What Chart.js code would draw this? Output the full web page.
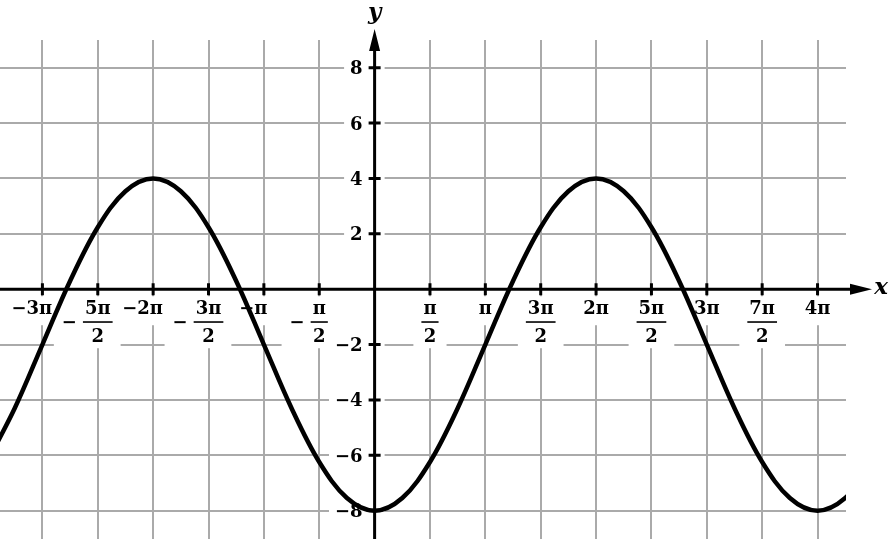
<!DOCTYPE html>
<html>
<head>
<meta charset="utf-8">
<script src="https://cdn.jsdelivr.net/npm/chart.js@4/dist/chart.umd.min.js"></script>
<style>
  html, body { margin: 0; padding: 0; background: #fff; overflow: hidden; }
  #Grafica { display: block; }
</style>
</head>
<body>
<canvas id="Grafica" width="891" height="539"></canvas>
<script>
// x values in units of pi, y values
const xPi = [-3.5,-3.25,-3,-2.75,-2.5,-2.25,-2,-1.75,-1.5,-1.25,-1,-0.75,-0.5,-0.25,
             0,0.25,0.5,0.75,1,1.25,1.5,1.75,2,2.25,2.5,2.75,3,3.25,3.5,3.75,4,4.25,4.5];
const yVals = [-6.24,-4.30,-2,0.30,2.24,3.54,4,3.54,2.24,0.30,-2,-4.30,-6.24,-7.54,
               -8,-7.54,-6.24,-4.30,-2,0.30,2.24,3.54,4,3.54,2.24,0.30,-2,-4.30,-6.24,-7.54,-8,-7.54,-6.24];

const xTickVals = [-3,-2.5,-2,-1.5,-1,-0.5,0.5,1,1.5,2,2.5,3,3.5,4];
const xTickLabels = ['−3π','−5π/2','−2π','−3π/2','−π','−π/2','π/2','π','3π/2','2π','5π/2','3π','7π/2','4π'];
const yTickVals = [-8,-6,-4,-2,2,4,6,8];
const yTickLabels = ['−8','−6','−4','−2','2','4','6','8'];
const gridX = [-3,-2.5,-2,-1.5,-1,-0.5,0,0.5,1,1.5,2,2.5,3,3.5,4];
const gridY = [-8,-6,-4,-2,0,2,4,6,8];

const labelFont = 'bold 18px "DejaVu Serif"';
const titleFont = 'italic bold 23px "DejaVu Serif"';

function drawXLabel(ctx, px, y0, label){
    let neg = label.startsWith('−');
    let body = neg ? label.slice(1) : label;
    ctx.font = labelFont;
    if (body.includes('/')){
        let [num, den] = body.split('/');
        let w = Math.max(ctx.measureText(num).width, ctx.measureText(den).width) + 4;
        let mw = neg ? ctx.measureText('−').width + 6 : 0;
        let left = px - w/2 - mw, right = px + w/2;
        ctx.fillStyle = '#fff';
        ctx.fillRect(left - 8, y0 + 7, right - left + 16, 52);
        ctx.fillStyle = '#000';
        ctx.textAlign = 'center';
        ctx.textBaseline = 'alphabetic';
        ctx.fillText(num, px, y0 + 25);
        ctx.fillText(den, px, y0 + 52.5);
        ctx.fillRect(px - w/2, y0 + 32, w, 1.6);
        if (neg){
            ctx.textAlign = 'left';
            ctx.fillText('−', left, y0 + 38.5);
        }
    } else {
        let bw = ctx.measureText(body).width;
        let full = ctx.measureText(label).width;
        let right = neg ? px + bw/2 - 3 : px + full/2;
        let left = right - full;
        ctx.fillStyle = '#fff';
        ctx.fillRect(left - 7, y0 + 7, full + 14, 29);
        ctx.fillStyle = '#000';
        ctx.textAlign = 'left';
        ctx.textBaseline = 'alphabetic';
        ctx.fillText(label, left, y0 + 25);
    }
}

const piAxes = {
    id: 'piAxes',
    beforeDatasetsDraw(chart){
        const ctx = chart.ctx;
        const xs = chart.scales.x, ys = chart.scales.y;
        const x0 = xs.getPixelForValue(0), y0 = ys.getPixelForValue(0);
        const area = chart.chartArea;
        ctx.save();
        // x tick labels
        xTickVals.forEach((v,i) => drawXLabel(ctx, xs.getPixelForValue(v), y0, xTickLabels[i]));
        // y tick labels
        ctx.font = labelFont;
        yTickVals.forEach((v,i) => {
            let py = ys.getPixelForValue(v);
            let w = ctx.measureText(yTickLabels[i]).width;
            ctx.fillStyle = '#fff';
            ctx.fillRect(x0 - 12 - w - 6, py - 11, w + 28, 22);
            ctx.fillStyle = '#000';
            ctx.textAlign = 'right';
            ctx.textBaseline = 'alphabetic';
            ctx.fillText(yTickLabels[i], x0 - 12, py + 6.5);
        });
        // axes
        ctx.strokeStyle = '#000';
        ctx.fillStyle = '#000';
        ctx.lineWidth = 3;
        ctx.beginPath();
        ctx.moveTo(area.left, y0); ctx.lineTo(858, y0);
        ctx.moveTo(x0, area.bottom); ctx.lineTo(x0, 44);
        ctx.stroke();
        // arrow heads
        ctx.beginPath();
        ctx.moveTo(872, y0); ctx.lineTo(850, y0 - 5.5); ctx.lineTo(850, y0 + 5.5); ctx.closePath();
        ctx.moveTo(x0, 29); ctx.lineTo(x0 - 5.5, 51); ctx.lineTo(x0 + 5.5, 51); ctx.closePath();
        ctx.fill();
        // tick marks
        ctx.beginPath();
        xTickVals.forEach(v => {
            let px = xs.getPixelForValue(v);
            ctx.moveTo(px, y0 - 6); ctx.lineTo(px, y0 + 6);
        });
        yTickVals.forEach(v => {
            let py = ys.getPixelForValue(v);
            ctx.moveTo(x0 - 6, py); ctx.lineTo(x0 + 6, py);
        });
        ctx.stroke();
        // axis titles
        ctx.font = titleFont;
        ctx.textAlign = 'center';
        ctx.textBaseline = 'middle';
        ctx.fillText('y', x0, 13);
        ctx.fillText('x', 881, y0 - 1);
        ctx.restore();
    }
};

let config = {
    'type': 'line',
    'data': {
        'datasets': [
            {
                'data': xPi.map((x,i) => ({'x': x, 'y': yVals[i]})),
                'borderColor': '#000',
                'borderWidth': 4.5,
                'pointRadius': 0,
                'tension': 0.35,
                'fill': false
            }
        ]
    },
    'options': {
        'responsive': false,
        'animation': false,
        'layout': {'padding': {'left': 0, 'right': 45, 'top': 40, 'bottom': 0}},
        'plugins': {'legend': {'display': false}, 'tooltip': {'enabled': false}},
        'scales': {
            'x': {
                'type': 'linear',
                'min': -3.383,
                'max': 4.257,
                'ticks': {'display': false},
                'border': {'display': false},
                'grid': {'color': '#aaaaaa', 'lineWidth': 2, 'drawTicks': false},
                'afterBuildTicks': s => { s.ticks = gridX.map(v => ({'value': v})); }
            },
            'y': {
                'type': 'linear',
                'min': -9.02,
                'max': 9.0,
                'ticks': {'display': false},
                'border': {'display': false},
                'grid': {'color': '#aaaaaa', 'lineWidth': 2, 'drawTicks': false},
                'afterBuildTicks': s => { s.ticks = gridY.map(v => ({'value': v})); }
            }
        }
    },
    'plugins': [piAxes]
};

new Chart(document.getElementById('Grafica').getContext('2d'), config);
</script>
</body>
</html>
